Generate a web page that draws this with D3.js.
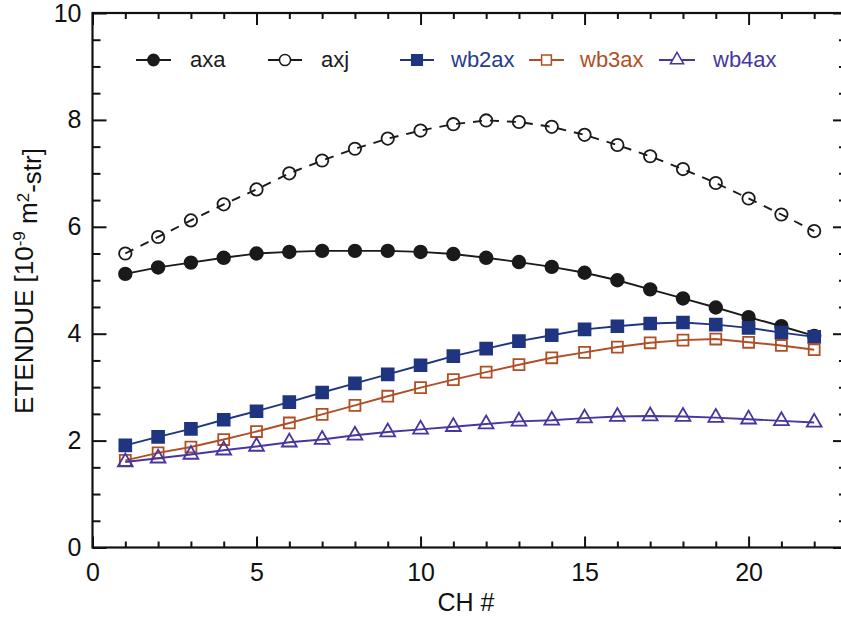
<!DOCTYPE html>
<html>
<head>
<meta charset="utf-8">
<script src="https://cdn.jsdelivr.net/npm/d3@7"></script>
<style>
  html, body { margin: 0; padding: 0; background: #fff; }
  svg { display: block; font-family: "Liberation Sans", Arial, Helvetica, sans-serif; }
</style>
</head>
<body>
<svg id="chart" width="841" height="617"></svg>
<script>
// ---- data ----
const channels = [1,2,3,4,5,6,7,8,9,10,11,12,13,14,15,16,17,18,19,20,21,22];
const axa   = [5.12,5.24,5.33,5.42,5.50,5.53,5.55,5.55,5.55,5.53,5.49,5.42,5.34,5.25,5.14,5.00,4.83,4.66,4.49,4.31,4.14,3.96];
const axj   = [5.50,5.81,6.12,6.42,6.70,7.00,7.24,7.46,7.65,7.80,7.92,7.99,7.96,7.87,7.72,7.53,7.32,7.08,6.82,6.53,6.23,5.92];
const wb2ax = [1.91,2.07,2.22,2.39,2.55,2.72,2.90,3.07,3.24,3.41,3.58,3.72,3.86,3.97,4.08,4.14,4.19,4.21,4.17,4.11,4.02,3.94];
const wb3ax = [1.63,1.77,1.88,2.02,2.17,2.33,2.49,2.66,2.83,2.99,3.14,3.28,3.42,3.55,3.65,3.75,3.83,3.88,3.90,3.84,3.78,3.70];
const wb4ax = [1.60,1.67,1.74,1.82,1.89,1.97,2.02,2.10,2.16,2.21,2.26,2.31,2.36,2.38,2.42,2.45,2.46,2.45,2.43,2.40,2.37,2.34];
const seriesNames = ["axa","axj","wb2ax","wb3ax","wb4ax"];
const xMajorTicks = [0,5,10,15,20];
const yMajorTicks = [0,2,4,6,8,10];
const xLabel = "CH #";

// ---- styles ----
const styles = {
  axa:   {color:"#1a1a1a", text:"#1a1a1a", symbol:d3.symbolCircle,   size:125, fill:true,  dash:null},
  axj:   {color:"#1a1a1a", text:"#1a1a1a", symbol:d3.symbolCircle,   size:120, fill:false, dash:"9,8"},
  wb2ax: {color:"#1f3580", text:"#263c8c", symbol:d3.symbolSquare,   size:140, fill:true,  dash:null},
  wb3ax: {color:"#b04f26", text:"#b04f26", symbol:d3.symbolSquare,   size:120, fill:false, dash:null},
  wb4ax: {color:"#4636a0", text:"#4636a0", symbol:d3.symbolTriangle, size:95,  fill:false, dash:null}
};
const valuesBy = {axa, axj, wb2ax, wb3ax, wb4ax};
const legendPos = {
  axa:   {x1:136, x2:171, tx:190},
  axj:   {x1:268, x2:302, tx:321},
  wb2ax: {x1:400, x2:434, tx:451},
  wb3ax: {x1:529, x2:564, tx:580},
  wb4ax: {x1:659, x2:695, tx:713}
};

const svg = d3.select("#chart");
const mLeft = 92.5, mRight = 847, mTop = 13, mBottom = 547.5;
const x = d3.scaleLinear().domain([0,23]).range([mLeft,mRight]);
const y = d3.scaleLinear().domain([0,10]).range([mBottom,mTop]);

const fontSize = 25;

// axes (ticks inward)
const minorX = d3.range(1,23).filter(v => v % 5 !== 0);
const minorY = d3.range(0,10.01,0.5).filter(v => v % 2 !== 0);

function styleAxis(g){
  g.select(".domain").remove();
  g.selectAll("line").attr("stroke","#111").attr("stroke-width",2);
  g.selectAll("text").attr("fill","#111").style("font-size",fontSize+"px").style("font-family","'Liberation Sans', Arial, sans-serif");
}

svg.append("g").attr("transform",`translate(0,${mBottom})`)
  .call(d3.axisBottom(x).tickValues(xMajorTicks).tickSize(-11).tickPadding(16).tickFormat(d3.format("d")))
  .call(styleAxis);
svg.append("g").attr("transform",`translate(0,${mBottom})`)
  .call(d3.axisBottom(x).tickValues(minorX).tickSize(-6).tickFormat(""))
  .call(styleAxis);
svg.append("g").attr("transform",`translate(0,${mTop})`)
  .call(d3.axisTop(x).tickValues(xMajorTicks).tickSize(-12).tickFormat(""))
  .call(styleAxis);
svg.append("g").attr("transform",`translate(0,${mTop})`)
  .call(d3.axisTop(x).tickValues(minorX).tickSize(-6).tickFormat(""))
  .call(styleAxis);

svg.append("g").attr("transform",`translate(${mLeft},0)`)
  .call(d3.axisLeft(y).tickValues(yMajorTicks).tickSize(-14).tickPadding(11).tickFormat(d3.format("d")))
  .call(styleAxis);
svg.append("g").attr("transform",`translate(${mLeft},0)`)
  .call(d3.axisLeft(y).tickValues(minorY).tickSize(-8).tickFormat(""))
  .call(styleAxis);
svg.append("g").attr("transform",`translate(${mRight},0)`)
  .call(d3.axisRight(y).tickValues(yMajorTicks).tickSize(-14).tickFormat(""))
  .call(styleAxis);
svg.append("g").attr("transform",`translate(${mRight},0)`)
  .call(d3.axisRight(y).tickValues(minorY).tickSize(-8).tickFormat(""))
  .call(styleAxis);

// frame
svg.append("rect").attr("x",mLeft).attr("y",mTop).attr("width",mRight-mLeft).attr("height",mBottom-mTop)
  .attr("fill","none").attr("stroke","#111").attr("stroke-width",2.2);

// series
const line = d3.line().x(d => x(d.ch)).y(d => y(d.v));
seriesNames.forEach(name => {
  const st = styles[name];
  const data = channels.map((c,i) => ({ch:c, v:valuesBy[name][i]}));
  svg.append("path").datum(data).attr("d",line)
    .attr("fill","none").attr("stroke",st.color).attr("stroke-width",1.9)
    .attr("stroke-dasharray",st.dash);
  svg.append("g").selectAll("path").data(data).join("path")
    .attr("transform",d => `translate(${x(d.ch)},${y(d.v)})`)
    .attr("d",d3.symbol().type(st.symbol).size(st.size))
    .attr("fill",st.fill ? st.color : "none")
    .attr("stroke",st.color).attr("stroke-width",1.8);
});

// legend
const ly = 60;
seriesNames.forEach(name => {
  const st = styles[name], p = legendPos[name];
  const g = svg.append("g");
  g.append("line").attr("x1",p.x1).attr("x2",p.x2).attr("y1",ly).attr("y2",ly)
    .attr("stroke",st.color).attr("stroke-width",2);
  g.append("path").attr("transform",`translate(${(p.x1+p.x2)/2},${ly})`)
    .attr("d",d3.symbol().type(st.symbol).size(st.size*0.8))
    .attr("fill",st.fill ? st.color : "#fff").attr("stroke",st.color).attr("stroke-width",1.5);
  g.append("text").attr("x",p.tx).attr("y",ly+7).text(name)
    .attr("fill",st.text).style("font-size","22px");
});

// axis titles
svg.append("text").attr("x",466).attr("y",611).attr("text-anchor","middle")
  .style("font-size",fontSize+"px").attr("fill","#111").text(xLabel);

const yt = svg.append("text").attr("transform","translate(33,281) rotate(-90)")
  .attr("text-anchor","middle").style("font-size","26px").attr("fill","#111");
yt.append("tspan").text("ETENDUE [10");
yt.append("tspan").attr("dy","-0.45em").style("font-size","17px").text("-9");
yt.append("tspan").attr("dy","0.45em").text(" m");
yt.append("tspan").attr("dy","-0.45em").style("font-size","17px").text("2");
yt.append("tspan").attr("dy","0.45em").text("-str]");
</script>
</body>
</html>
